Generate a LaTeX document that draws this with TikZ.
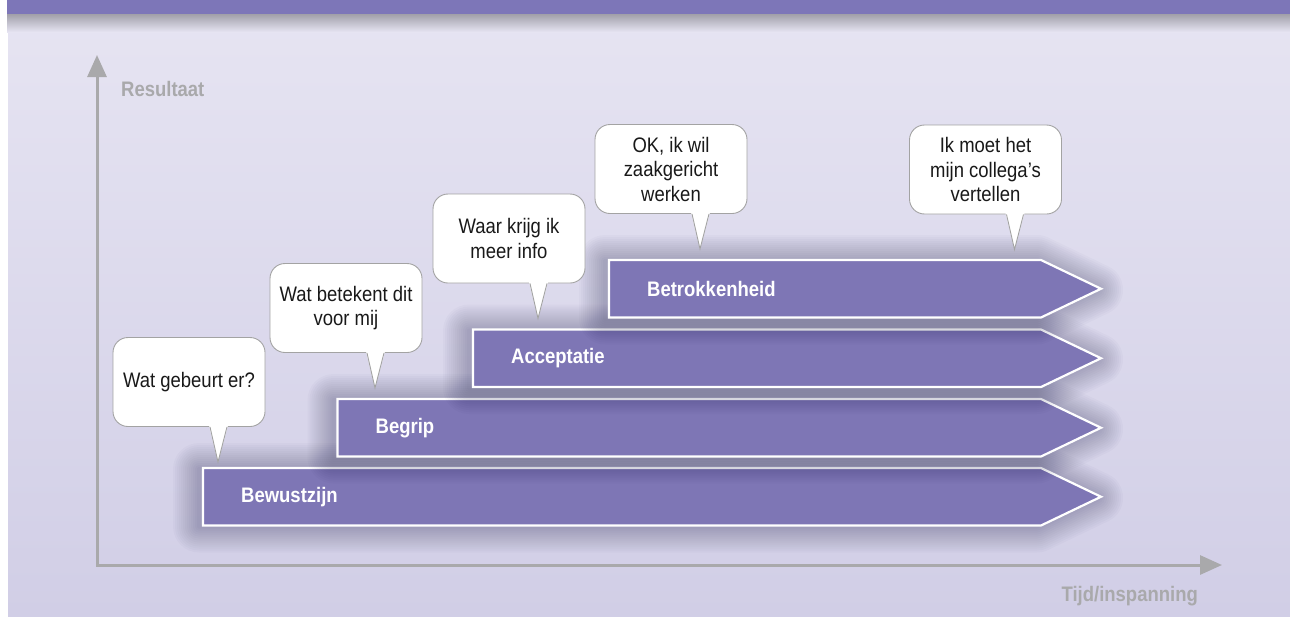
\documentclass[tikz,border=0pt]{standalone}
\usepackage{fontspec}
\setmainfont{Liberation Sans}[FakeStretch=0.88]
\usetikzlibrary{calc,arrows.meta}
\definecolor{bgtop}{HTML}{E6E4F2}
\definecolor{bgbot}{HTML}{D1CEE6}
\definecolor{band}{HTML}{7D76B8}
\definecolor{barfill}{HTML}{7E76B5}
\definecolor{axisgray}{HTML}{A9A9AB}
\definecolor{bubbleline}{HTML}{A3A3A3}
\begin{document}
\begin{tikzpicture}[x=1pt,y=-1pt,
  stagebar/.style={fill=barfill, draw=white, line width=2.2pt, line join=miter},
  stageglow/.style={draw=black!80!blue, opacity=0.018, line join=round, line width=#1},
  stagelabel/.style={anchor=west, text=white, inner sep=0pt,
    font=\fontsize{21}{24}\selectfont\bfseries},
  bubble/.style={fill=white, draw=bubbleline, line width=0.9pt, rounded corners=15pt,
    minimum width=152pt, minimum height=89pt, align=center, inner sep=0pt,
    font=\fontsize{21}{24.5}\selectfont, text=black!90},
  tailfill/.style={fill=white},
  tailline/.style={draw=bubbleline, line width=0.9pt, line join=miter},
  axislabel/.style={text=axisgray, inner sep=0pt, font=\fontsize{21}{24}\selectfont\bfseries},
  axisline/.style={draw=axisgray, line width=3pt,
    {Triangle[length=22pt,width=19pt]}-{Triangle[length=22pt,width=19pt]}},
]
\useasboundingbox (0,0) rectangle (1290,616);

% background and header band
\shade[top color=bgtop, bottom color=bgbot] (8,14) rectangle (1290,616);
\fill[band] (7,0) rectangle (1290,14);
\shade[top color=black!30!bgtop, bottom color=bgtop] (7,14) rectangle (1290,32);

% axes
\coordinate (ytip) at (97,55);
\coordinate (origin) at (97,565);
\coordinate (xtip) at (1222,565);
\draw[axisline] (ytip) -- (origin) -- (xtip);
\node[axislabel, anchor=west] (ylab) at (121,89) {Resultaat};
\node[axislabel, anchor=east] (xlab) at (1198,596) {Tijd/inspanning};

% stage arrows with a soft shadow made of stacked strokes
\foreach \L/\T/\nm/\txt in {203/468/s1/Bewustzijn, 337.5/399/s2/Begrip,
                             473/329.5/s3/Acceptatie, 609/260/s4/Betrokkenheid}{
  \foreach \w in {4,8,...,52}{
    \draw[stageglow=\w pt, xshift=-4pt, yshift=-1pt] (\L,\T) -- (1041,\T) -- (1101,\T+28.75)
        -- (1041,\T+57.5) -- (\L,\T+57.5) -- cycle;
  }
  \path[stagebar] (\L,\T) -- (1041,\T) -- (1101,\T+28.75) -- (1041,\T+57.5)
        -- (\L,\T+57.5) -- cycle;
  \node[stagelabel] (\nm) at (\L+38,\T+28.75) {\txt};
}

% speech bubbles
\foreach \nm/\cx/\cy/\txt in {b1/189/382/{Wat gebeurt er?},
                              b2/346/308/{Wat betekent dit\\voor mij},
                              b3/509/238.5/{Waar krijg ik\\meer info},
                              b4/671/169/{OK, ik wil\\zaakgericht\\werken},
                              b5/985.5/169.5/{Ik moet het\\mijn collega’s\\vertellen}}{
  \node[bubble] (\nm) at (\cx,\cy) {\txt};
  \coordinate (\nm tip) at ($(\nm.south)+(29,35)$);
  \fill[tailfill] ($(\nm.south)+(20,-1.5)$) -- (\nm tip) -- ($(\nm.south)+(39,-1.5)$) -- cycle;
  \draw[tailline] ($(\nm.south)+(21,0)$) -- (\nm tip) -- ($(\nm.south)+(38,0)$);
}
\end{tikzpicture}
\end{document}
